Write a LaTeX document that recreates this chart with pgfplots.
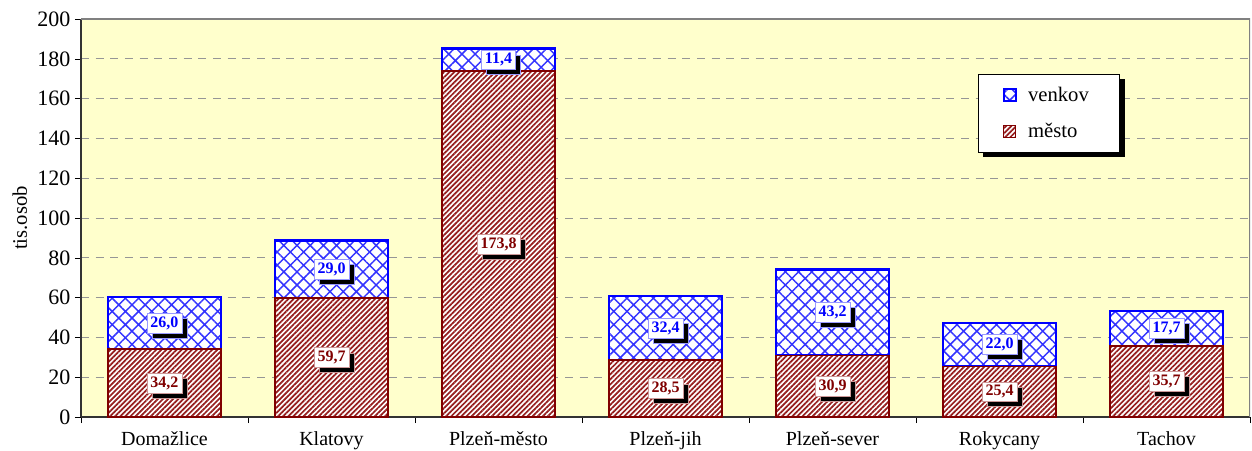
\documentclass[border=0pt]{standalone}
\usepackage{pgfplots}
\pgfplotsset{compat=1.18}
\usepackage{fontspec}
\setmainfont{Liberation Serif}
\usetikzlibrary{patterns.meta,shadows}

\definecolor{bgyellow}{RGB}{255,255,204}
\definecolor{mestoRed}{RGB}{128,0,0}
\definecolor{stripeRed}{RGB}{150,30,30}
\definecolor{gridgray}{RGB}{150,150,150}

\begin{document}
\begin{tikzpicture}
\useasboundingbox (-60.75pt,-24.75pt) rectangle (878.25pt,312.75pt);
\begin{axis}[
    scale only axis,
    width=876.75pt,
    height=298.5pt,
    ybar stacked,
    bar width=0.68,
    xmin=-0.5, xmax=6.5,
    ymin=0, ymax=200,
    xtick={0,...,6},
    xticklabels={Domažlice,Klatovy,Plzeň-město,Plzeň-jih,Plzeň-sever,Rokycany,Tachov},
    minor xtick={-0.5,0.5,...,6.5},
    ytick={0,20,...,200},
    major x tick style={draw=none},
    minor x tick style={black, thin},
    y tick style={black, thin},
    tick align=outside,
    major tick length=4.5pt,
    minor tick length=4.5pt,
    axis x line*=bottom,
    axis y line*=left,
    axis line style={black!80, line width=0.8pt},
    axis background/.style={fill=bgyellow},
    ymajorgrids=true,
    grid style={gridgray, dash pattern=on 6pt off 5pt, line width=0.6pt},
    ylabel={tis.osob},
    every axis y label/.style={at={(axis description cs:-0.0522,0.5)}, rotate=90, anchor=center},
    ylabel style={font=\fontsize{15.5}{17}\selectfont},
    xticklabel style={font=\fontsize{15}{17}\selectfont, yshift=-3pt},
    yticklabel style={font=\fontsize{16.5}{18}\selectfont},
    /pgf/number format/assume math mode=true,
    point meta=rawy,
    nodes near coords={\pgfmathprintnumber[fixed,fixed zerofill,precision=1,use comma]{\pgfplotspointmeta}},
    every node near coord/.append style={
        anchor=center,
        font=\bfseries\fontsize{12}{14}\selectfont,
        fill=white, inner xsep=2.5pt, inner ysep=2.5pt,
        drop shadow={shadow xshift=3.8pt, shadow yshift=-3.8pt, fill=black, opacity=1}
    },
    reverse legend,
    legend cell align=left,
    legend style={
        at={(rel axis cs:0.767,0.862)}, anchor=north west,
        font=\fontsize{15.5}{17}\selectfont,
        draw=black, thin, fill=white,
        inner xsep=18.5pt, inner ysep=7.5pt,
        nodes={inner sep=2pt, text width=48pt},
        column sep=6.5pt,
        row sep=11pt,
    },
    legend image code/.code={\draw[#1] (0pt,-4.5pt) rectangle (9pt,4.5pt);},
]

\addplot[
    draw=mestoRed, line width=1.2pt, fill=white,
    postaction={pattern={Lines[angle=45,distance=2.7pt,line width=1.3pt]}, pattern color=stripeRed},
    every node near coord/.append style={text=mestoRed, draw=mestoRed!40, thin}
    ]
    coordinates {
    (0,34.2)(1,59.7)(2,173.8)(3,28.5)(4,30.9)(5,25.4)(6,35.7)
    };

\addplot[
    draw=blue, line width=1.6pt, fill=white,
    postaction={pattern={Hatch[angle=45,distance=7pt,line width=1.1pt]}, pattern color=blue!80},
    every node near coord/.append style={text=blue, draw=blue!40, thin}
    ]
    coordinates {
    (0,26.0)(1,29.0)(2,11.4)(3,32.4)(4,43.2)(5,22.0)(6,17.7)
    };

\legend{město, venkov}

% plot frame on the top and right, legend shadow
\draw[gray, line width=0.8pt] (rel axis cs:0,1) -- (rel axis cs:1,1) -- (rel axis cs:1,0);
\fill[black] ([xshift=4pt,yshift=-4pt]rel axis cs:0.767,0.862) rectangle ++(106.5pt,-58.5pt);

\end{axis}
\end{tikzpicture}
\end{document}
